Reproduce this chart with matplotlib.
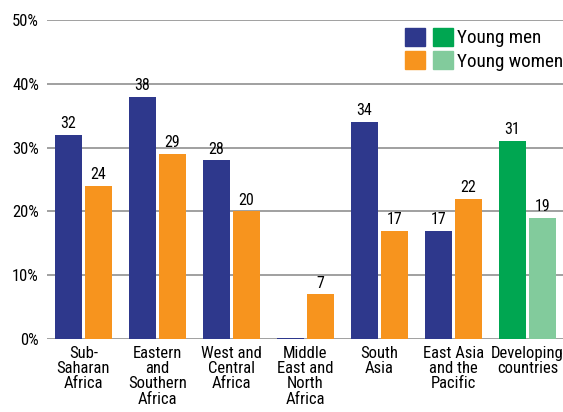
import numpy as np
import matplotlib.pyplot as plt
from matplotlib.patches import Patch
from matplotlib.legend_handler import HandlerTuple

plt.rcParams['font.family'] = ['Roboto Condensed', 'DejaVu Sans']

regions = ['Sub-\nSaharan\nAfrica', 'Eastern\nand\nSouthern\nAfrica', 'West and\nCentral\nAfrica',
           'Middle\nEast and\nNorth\nAfrica', 'South\nAsia', 'East Asia\nand the\nPacific',
           'Developing\ncountries']
men = [32, 38, 28, 0.2, 34, 17, 31]
women = [24, 29, 20, 7, 17, 22, 19]
men_labels = ['32', '38', '28', '', '34', '17', '31']
women_labels = ['24', '29', '20', '7', '17', '22', '19']

blue = '#2E388C'
orange = '#F7941E'
green = '#00A651'
lgreen = '#82CB9C'
men_cols = [blue] * 6 + [green]
women_cols = [orange] * 6 + [lgreen]

fig = plt.figure(figsize=(5.63, 4.12), dpi=100)
ax = fig.add_axes([47 / 563, 1 - 339 / 412, 516 / 563, 319 / 412])

x = np.arange(len(regions))
w = 0.365
b1 = ax.bar(x - w / 2 - 0.02, men, w, color=men_cols, zorder=3)
b2 = ax.bar(x + w / 2 + 0.02, women, w, color=women_cols, zorder=3)

# value labels sit over the gridlines, like the original
for bar, lab in zip(b1, men_labels):
    ax.text(bar.get_x() + bar.get_width() / 2, bar.get_height() + 0.6, lab,
            ha='center', va='bottom', fontsize=11.5, zorder=4)
for bar, lab in zip(b2, women_labels):
    ax.text(bar.get_x() + bar.get_width() / 2, bar.get_height() + 0.6, lab,
            ha='center', va='bottom', fontsize=11.5, zorder=4)

ax.set_xlim(-0.49, 6.48)
ax.set_ylim(0, 50)
ax.set_yticks(range(0, 51, 10))
ax.set_yticklabels([f'{v}%' for v in range(0, 51, 10)], fontsize=12)
ax.set_xticks(x)
ax.set_xticklabels(regions, fontsize=12, linespacing=1.02, va='top')
ax.tick_params(axis='both', length=0)
ax.tick_params(axis='y', pad=5.8)
ax.tick_params(axis='x', pad=5)
ax.yaxis.grid(True, color='#A0A0A0', linewidth=1.4, zorder=0)
for s in ax.spines.values():
    s.set_visible(False)

handles = [(Patch(color=blue), Patch(color=green)),
           (Patch(color=orange), Patch(color=lgreen))]
ax.legend(handles, ['Young men', 'Young women'],
          handler_map={tuple: HandlerTuple(ndivide=None, pad=0.42)},
          loc='upper right', bbox_to_anchor=(1.0, 0.975), frameon=False,
          fontsize=13.8, handlelength=2.5, handleheight=1.04, handletextpad=0.2,
          labelspacing=0.2, borderaxespad=0.0, borderpad=0.0)

fig.savefig('out.png', dpi=100)
